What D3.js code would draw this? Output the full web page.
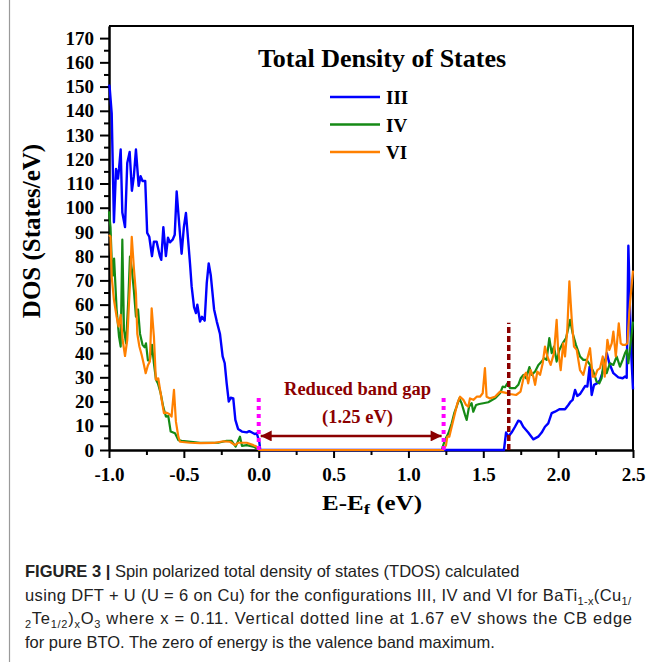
<!DOCTYPE html>
<html>
<head>
<meta charset="utf-8">
<script src="https://cdn.jsdelivr.net/npm/d3@7"></script>
<style>
  body { margin: 0; background: #fff; }
  svg text { font-family: "Liberation Serif", "Times New Roman", serif; }
</style>
</head>
<body>
<div id="chart"></div>
<script>
// ---- data ----
const seriesNames = ["III", "IV", "VI"];
const seriesColors = ["#0000ff", "#158a15", "#ff8000"];

const energyIII = [-1.0, -0.996, -0.982, -0.967, -0.953, -0.94, -0.933, -0.922, -0.911, -0.893, -0.878, -0.862, -0.847, -0.834, -0.82, -0.802, -0.789, -0.776, -0.758, -0.745, -0.731, -0.713, -0.7, -0.682, -0.66, -0.651, -0.637, -0.62, -0.606, -0.593, -0.575, -0.561, -0.548, -0.53, -0.515, -0.5, -0.486, -0.468, -0.459, -0.448, -0.432, -0.419, -0.41, -0.392, -0.379, -0.361, -0.347, -0.334, -0.32, -0.298, -0.28, -0.259, -0.241, -0.227, -0.214, -0.2, -0.187, -0.17, -0.156, -0.138, -0.112, -0.08, -0.063, -0.045, -0.027, -0.013, 0.004, 0.01,
  1.638, 1.652, 1.667, 1.689, 1.712, 1.734, 1.749, 1.767, 1.8, 1.834, 1.867, 1.89, 1.912, 1.934, 1.957, 1.979, 2.008, 2.046, 2.068, 2.084, 2.097, 2.113, 2.128, 2.146, 2.164, 2.18, 2.195, 2.21, 2.224, 2.24, 2.262, 2.28, 2.302, 2.325, 2.342, 2.369, 2.402, 2.431, 2.447, 2.458, 2.469, 2.488, 2.5];
const dosIII = [150.8, 150, 139, 94, 116, 112, 116, 124, 98, 92, 118.5, 123, 107, 113, 124, 109, 113, 111, 111, 89.6, 88, 80, 86, 86, 80, 78.5, 92, 80, 87.6, 85.7, 86.8, 88.8, 106.7, 92.3, 81, 92, 97.8, 84, 77, 67.5, 59, 56.5, 60, 53, 55, 53.4, 69, 77, 72, 58, 53, 48, 38.6, 35.8, 27.5, 20, 21.6, 21.3, 12.4, 8.7, 7.6, 7.3, 7.8, 7.2, 6.6, 6.9, 3.4, 0,
  0, 7.2, 5.5, 7.2, 9.6, 12.1, 11.7, 9.6, 7.2, 4.4, 5.5, 7.2, 9.6, 11, 15.2, 15.8, 16.8, 16.8, 18.6, 20, 20.7, 24.8, 22.3, 23.1, 24.8, 26.4, 26.2, 34.3, 22.7, 26.9, 27.6, 28.9, 33, 40, 35.8, 31.7, 30, 29.6, 30.3, 29.8, 84.3, 40, 25];

const energyIV = [-1.0, -0.99, -0.982, -0.975, -0.966, -0.949, -0.933, -0.922, -0.911, -0.9, -0.886, -0.871, -0.86, -0.847, -0.834, -0.82, -0.806, -0.793, -0.776, -0.762, -0.753, -0.74, -0.727, -0.713, -0.7, -0.686, -0.673, -0.655, -0.638, -0.62, -0.604, -0.588, -0.559, -0.537, -0.515, -0.392, -0.27, -0.214, -0.181, -0.154, -0.125, -0.112, -0.08, -0.036, -0.003, 0.0,
  1.222, 1.244, 1.267, 1.289, 1.306, 1.322, 1.34, 1.355, 1.378, 1.389, 1.405, 1.422, 1.433, 1.452, 1.473, 1.5, 1.533, 1.578, 1.612, 1.63, 1.645, 1.661, 1.679, 1.712, 1.734, 1.75, 1.768, 1.786, 1.808, 1.823, 1.846, 1.868, 1.89, 1.906, 1.923, 1.941, 1.957, 1.972, 1.99, 2.008, 2.03, 2.053, 2.08, 2.097, 2.119, 2.146, 2.168, 2.19, 2.213, 2.235, 2.257, 2.275, 2.29, 2.306, 2.324, 2.346, 2.369, 2.391, 2.413, 2.431, 2.447, 2.458, 2.469, 2.484, 2.5];
const dosIV = [98.5, 92, 78.5, 72, 79, 58, 46.8, 42.7, 86.8, 49.6, 44, 62, 79.8, 74.4, 66, 55, 58, 48, 43.4, 42.4, 44, 37, 37, 43.4, 35.8, 29, 27.5, 23.4, 17.9, 13.8, 14, 7.6, 6.9, 4.1, 3.8, 3, 3, 3.8, 3.8, 1.4, 5.5, 1.7, 2, 1.4, 0.3, 0,
  0, 4.1, 6.9, 11, 15.2, 17.9, 21.3, 19.3, 14.5, 12.4, 17.9, 19.3, 15.8, 18.6, 19, 19.3, 19.7, 21.3, 23.4, 26.2, 25.9, 27.5, 25.5, 25.5, 26.9, 29.6, 31, 29.6, 34.2, 31, 32.4, 35.1, 36.5, 37.9, 37.2, 46.2, 40, 42.7, 36.5, 41.3, 44, 46.2, 53.7, 48.2, 43.4, 38.6, 37.2, 37.2, 35.1, 32.4, 28.2, 27.5, 29.6, 37.2, 31.7, 35.8, 35.1, 38.6, 34.4, 37.2, 40, 41.3, 35.8, 44, 53];

const energyVI = [-1.0, -0.99, -0.982, -0.967, -0.949, -0.936, -0.922, -0.909, -0.893, -0.878, -0.86, -0.848, -0.833, -0.82, -0.811, -0.797, -0.782, -0.766, -0.755, -0.74, -0.727, -0.715, -0.7, -0.687, -0.671, -0.648, -0.633, -0.615, -0.598, -0.582, -0.566, -0.553, -0.537, -0.526, -0.459, -0.39, -0.3, -0.236, -0.192, -0.158, -0.138, -0.08, -0.036, -0.015, 0.004,
  1.233, 1.251, 1.26, 1.273, 1.3, 1.327, 1.345, 1.367, 1.385, 1.4, 1.411, 1.434, 1.456, 1.478, 1.496, 1.511, 1.522, 1.545, 1.578, 1.612, 1.645, 1.679, 1.719, 1.749, 1.772, 1.786, 1.8, 1.816, 1.834, 1.846, 1.861, 1.879, 1.897, 1.912, 1.928, 1.95, 1.972, 1.99, 2.0, 2.017, 2.034, 2.046, 2.061, 2.075, 2.091, 2.106, 2.124, 2.146, 2.168, 2.19, 2.213, 2.231, 2.246, 2.262, 2.28, 2.298, 2.311, 2.329, 2.342, 2.358, 2.369, 2.385, 2.405, 2.418, 2.431, 2.449, 2.462, 2.48, 2.5];
const dosVI = [88.8, 88, 71.6, 62, 55, 51, 55.8, 45.5, 38.8, 45.5, 68.9, 88, 74.4, 64.7, 48, 42.7, 39.3, 35, 31.7, 35, 36.5, 58.5, 46.8, 29, 29.6, 20.7, 15.2, 15.4, 14.9, 13.8, 24.8, 11.7, 5.5, 3.4, 3, 2.8, 2.9, 3.6, 3.4, 2, 3, 3, 2, 1.4, 0,
  0, 2, 5.5, 5.5, 12.4, 19.3, 22, 20.7, 18.6, 17.9, 21.3, 20.7, 22, 22, 23.4, 33.8, 22, 21.3, 22, 24.1, 23.7, 23.1, 22.7, 24.1, 30.6, 31.9, 27.5, 33, 30.3, 26.9, 32.4, 31, 35.8, 42.7, 38.6, 35.1, 40, 53.7, 41.3, 33, 44, 38.6, 49.6, 69.6, 53.7, 42.7, 41.3, 33, 31, 36.5, 42, 30.3, 30.3, 33, 33.8, 38.6, 30.3, 45.5, 41.3, 44, 48.9, 38.6, 52.3, 44, 43.4, 43.4, 44, 60.6, 74];

const yTicks = d3.range(0, 171, 10);
const xTicks = [-1.0, -0.5, 0.0, 0.5, 1.0, 1.5, 2.0, 2.5];
const gapEdges = [0.0, 1.235];   // VBM and reduced CB edge
const gapLabel = ["Reduced band gap", "(1.25 eV)"];
const btoEdge = 1.67;            // CB edge of pure BTO
const titleText = "Total Density of States";

// ---- layout ----
const W = 651, H = 662;
const margin = {top: 26, right: 18, bottom: 212, left: 109};
const width = W - margin.left - margin.right;
const height = H - margin.top - margin.bottom;

const root = d3.select("#chart").append("svg")
    .attr("width", W)
    .attr("height", H);

// thin grey border on the left of the figure panel
root.append("line")
    .attr("x1", 9.5).attr("x2", 9.5)
    .attr("y1", 0).attr("y2", H)
    .attr("stroke", "#9a9a9a").attr("stroke-width", 1.2);

const svg = root.append("g")
    .attr("transform", "translate(" + margin.left + "," + margin.top + ")");

// scales
const x = d3.scaleLinear().domain([-1.0, 2.5]).range([0, width]);
const y = d3.scaleLinear().domain([0, 175]).range([height, 0]);

// axes (plain hyphen for negatives, like the original)
const xAxis = d3.axisBottom(x).tickValues(xTicks).tickFormat(d => d.toFixed(1))
    .tickSize(8).tickSizeOuter(0).tickPadding(4);
const xMinor = d3.axisBottom(x).tickValues(d3.range(-0.75, 2.5, 0.5))
    .tickSize(5).tickSizeOuter(0).tickFormat("");
const yAxis = d3.axisLeft(y).tickValues(yTicks)
    .tickSize(9).tickSizeOuter(0).tickPadding(6);
const yMinor = d3.axisLeft(y).tickValues(d3.range(5, 175, 10))
    .tickSize(5).tickSizeOuter(0).tickFormat("");

function styleAxis(g) {
    g.select(".domain").attr("stroke", "#000").attr("stroke-width", 2);
    g.selectAll(".tick line").attr("stroke", "#000").attr("stroke-width", 2);
    g.selectAll(".tick text")
        .attr("fill", "#000")
        .style("font-size", "19px")
        .style("font-weight", "bold")
        .style("font-family", "'Liberation Serif', 'Times New Roman', serif");
}

svg.append("g").attr("transform", "translate(0," + height + ")").call(xMinor).call(styleAxis);
svg.append("g").attr("transform", "translate(0," + height + ")").call(xAxis).call(styleAxis)
    .selectAll(".tick text").attr("y", 18);
svg.append("g").call(yMinor).call(styleAxis);
svg.append("g").call(yAxis).call(styleAxis);

// top and right frame
svg.append("path")
    .attr("d", "M0,0H" + width + "V" + height)
    .attr("fill", "none").attr("stroke", "#000").attr("stroke-width", 2);

// DOS curves
const line = d3.line()
    .x(d => x(d[0]))
    .y(d => y(d[1]));

const curves = [
    {name: seriesNames[0], color: seriesColors[0], pts: d3.zip(energyIII, dosIII), w: 2.4},
    {name: seriesNames[1], color: seriesColors[1], pts: d3.zip(energyIV, dosIV), w: 2.2},
    {name: seriesNames[2], color: seriesColors[2], pts: d3.zip(energyVI, dosVI), w: 2.2}
];

svg.selectAll(".line")
    .data(curves)
    .join("path")
    .attr("class", "line")
    .attr("d", d => line(d.pts))
    .attr("fill", "none")
    .attr("stroke", d => d.color)
    .attr("stroke-width", d => d.w)
    .attr("stroke-linejoin", "round");

// magenta dotted band edges
svg.selectAll(".edge")
    .data(gapEdges)
    .join("line")
    .attr("class", "edge")
    .attr("x1", d => x(d)).attr("x2", d => x(d))
    .attr("y1", y(0)).attr("y2", y(22))
    .attr("stroke", "#ff00ff").attr("stroke-width", 4)
    .attr("stroke-dasharray", "4,4");

// CB edge of pure BTO
svg.append("line")
    .attr("x1", x(btoEdge)).attr("x2", x(btoEdge))
    .attr("y1", y(0)).attr("y2", y(52.5))
    .attr("stroke", "#8b0000").attr("stroke-width", 3.5)
    .attr("stroke-dasharray", "6,3");

// double arrow for the gap
const defs = root.append("defs");
["start", "end"].forEach(k => {
    defs.append("marker")
        .attr("id", "arr-" + k)
        .attr("viewBox", "0 0 10 10")
        .attr("refX", k === "end" ? 10 : 0).attr("refY", 5)
        .attr("markerWidth", 14).attr("markerHeight", 11)
        .attr("markerUnits", "userSpaceOnUse")
        .attr("orient", "auto")
        .append("path")
        .attr("d", k === "end" ? "M0,0L10,5L0,10z" : "M10,0L0,5L10,10z")
        .attr("fill", "#8b0000");
});
svg.append("line")
    .attr("x1", x(gapEdges[0]) + 2).attr("x2", x(gapEdges[1]) - 2)
    .attr("y1", y(5.8)).attr("y2", y(5.8))
    .attr("stroke", "#8b0000").attr("stroke-width", 2.5)
    .attr("marker-start", "url(#arr-start)")
    .attr("marker-end", "url(#arr-end)");

svg.selectAll(".gaptext")
    .data(gapLabel)
    .join("text")
    .attr("class", "gaptext")
    .attr("x", x(0.66))
    .attr("y", (d, i) => y(22.8) + i * 28)
    .attr("text-anchor", "middle")
    .attr("fill", "#8b0000")
    .style("font-size", "18.5px")
    .style("font-weight", "bold")
    .text(d => d);

// title + legend
svg.append("text")
    .attr("x", 273).attr("y", 41)
    .attr("text-anchor", "middle")
    .style("font-size", "26px").style("font-weight", "bold")
    .text(titleText);

const legend = svg.selectAll(".legend")
    .data(curves)
    .join("g")
    .attr("class", "legend")
    .attr("transform", (d, i) => "translate(221," + (71 + i * 27.5) + ")");
legend.append("line")
    .attr("x1", 0).attr("x2", 50)
    .attr("stroke", d => d.color).attr("stroke-width", 2.4);
legend.append("text")
    .attr("x", 56).attr("y", 7)
    .style("font-size", "19px").style("font-weight", "bold")
    .text(d => d.name);

// axis titles
const xl = root.append("text")
    .attr("transform", "translate(372,510) scale(1.25,1)")
    .attr("text-anchor", "middle")
    .style("font-size", "20px").style("font-weight", "bold");
xl.append("tspan").text("E-E");
xl.append("tspan").attr("dy", 4).style("font-size", "15px").text("f");
xl.append("tspan").attr("dy", -4).text(" (eV)");

root.append("text")
    .attr("transform", "translate(40,231) rotate(-90)")
    .attr("text-anchor", "middle")
    .style("font-size", "25px").style("font-weight", "bold")
    .text("DOS (States/eV)");

// caption (lines 2 and 3 are justified to the full column width)
const captionLines = [
    [["b", "FIGURE 3 |"], ["n", " Spin polarized total density of states (TDOS) calculated"]],
    [["n", "using DFT + U (U = 6 on Cu) for the configurations III, IV and VI for BaTi"], ["s", "1-x"], ["n", "(Cu"], ["s", "1/"]],
    [["s", "2"], ["n", "Te"], ["s", "1/2"], ["n", ")"], ["s", "x"], ["n", "O"], ["s", "3"], ["n", " where x = 0.11. Vertical dotted line at 1.67 eV shows the CB edge"]],
    [["n", "for pure BTO. The zero of energy is the valence band maximum."]]
];
const captionWidths = [null, 606, 607, null];

captionLines.forEach((segs, li) => {
    const t = root.append("text")
        .attr("x", 25).attr("y", 577 + li * 23.5)
        .attr("fill", "#222")
        .style("font-family", "'Liberation Sans', Arial, sans-serif")
        .style("font-size", "16.5px");
    if (captionWidths[li]) t.attr("textLength", captionWidths[li]).attr("lengthAdjust", "spacing");
    let shifted = false;
    segs.forEach(([kind, str]) => {
        const sp = t.append("tspan").text(str);
        if (kind === "b") sp.style("font-weight", "bold");
        if (kind === "s") {
            sp.style("font-size", "11px");
            if (!shifted) { sp.attr("dy", 4); shifted = true; }
        } else if (shifted) {
            sp.attr("dy", -4); shifted = false;
        }
    });
});
</script>
</body>
</html>
